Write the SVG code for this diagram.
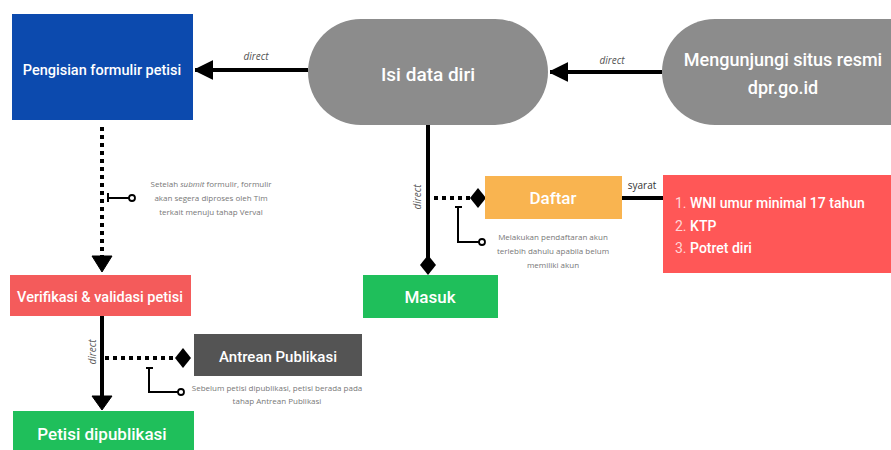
<svg xmlns="http://www.w3.org/2000/svg" width="891" height="450" viewBox="0 0 891 450">
<defs>
<style>
.lbl{font-family:Roboto,"Open Sans",sans-serif;font-weight:500;fill:#fff;text-anchor:middle}
.dir{font-family:"Open Sans","Liberation Sans",sans-serif;font-style:italic;font-size:10px;fill:#555}
.note{font-family:"Open Sans","Liberation Sans",sans-serif;font-size:8px;fill:#777;text-anchor:middle}
.solid{stroke:#000;stroke-width:4;fill:none}
.dot{stroke:#000;stroke-width:4;fill:none;stroke-dasharray:4 4}
.thin{stroke:#000;stroke-width:2;fill:none}
</style>
<marker id="arr" viewBox="0 0 10 10" refX="10" refY="5" markerWidth="4.4" markerHeight="5.5" orient="auto" markerUnits="strokeWidth">
<path d="M0,0 L10,5 L0,10 Z" fill="#000" stroke="#000" stroke-linejoin="round"/>
</marker>
</defs>
<rect width="891" height="450" fill="#fff"/>

<g id="connectors">
<line class="solid" x1="308" y1="70" x2="195" y2="70" marker-end="url(#arr)"/>
<text class="dir" x="256" y="60" text-anchor="middle">direct</text>
<line class="solid" x1="662" y1="72" x2="550" y2="72" marker-end="url(#arr)"/>
<text class="dir" x="612" y="64" text-anchor="middle">direct</text>
<line class="solid" x1="428" y1="125" x2="428" y2="262"/>
<path d="M428,255 L436,265 L428,275 L420,265 Z" fill="#000"/>
<text class="dir" transform="translate(421,197) rotate(-90)" text-anchor="middle">direct</text>
<line class="dot" x1="434" y1="198" x2="470" y2="198"/>
<path d="M470,198 L478,188 L486,198 L478,208 Z" fill="#000"/>
<line class="solid" x1="622" y1="198" x2="663" y2="198"/>
<text x="642" y="189" font-family="Open Sans, Liberation Sans, sans-serif" font-size="10" fill="#333" text-anchor="middle">syarat</text>
<path class="thin" d="M455,207 H462 M458,207 V242 H479"/>
<circle cx="482" cy="242" r="3" fill="#fff" stroke="#000" stroke-width="1.8"/>
<line class="dot" x1="102" y1="127" x2="102" y2="258"/>
<path d="M92,256 L112,256 L102,272 Z" fill="#000" stroke="#000" stroke-linejoin="round"/>
<path class="thin" d="M108,193 V202 M108,198 H129"/>
<circle cx="132" cy="198" r="3" fill="#fff" stroke="#000" stroke-width="1.8"/>
<line class="solid" x1="102" y1="316" x2="102" y2="397"/>
<path d="M92,396 L112,396 L102,410 Z" fill="#000" stroke="#000" stroke-linejoin="round"/>
<text class="dir" transform="translate(96,352) rotate(-90)" text-anchor="middle">direct</text>
<line class="dot" x1="105" y1="358" x2="175" y2="358"/>
<path d="M175,358 L183,348 L191,358 L183,368 Z" fill="#000"/>
<path class="thin" d="M146,368 H153 M149,368 V392 H178"/>
<circle cx="181" cy="392" r="3" fill="#fff" stroke="#000" stroke-width="1.8"/>
</g>

<g id="n-pengisian">
<rect x="12" y="14" width="181" height="106" fill="#0c4aae"/>
<text class="lbl" x="102" y="75" font-size="14.5">Pengisian formulir petisi</text>
</g>
<g id="n-isi">
<rect x="308" y="19" width="240" height="106" rx="53" fill="#8c8c8c"/>
<text class="lbl" x="428" y="81" font-size="19">Isi data diri</text>
</g>
<g id="n-mengunjungi">
<rect x="662" y="19" width="280" height="106" rx="53" fill="#8c8c8c"/>
<text class="lbl" x="783" y="66" font-size="18">Mengunjungi situs resmi</text>
<text class="lbl" x="783" y="94" font-size="18">dpr.go.id</text>
</g>
<g id="n-daftar">
<rect x="485" y="176" width="137" height="43" fill="#f9b450"/>
<text class="lbl" x="553" y="204" font-size="17">Daftar</text>
</g>
<g id="n-syarat">
<rect x="663" y="175" width="230" height="98" fill="#ff5757"/>
<text x="675" y="208" font-family="Roboto, sans-serif" font-size="14" fill="#fff"><tspan fill="#ffd6d6">1.</tspan><tspan font-weight="500"> WNI umur minimal 17 tahun</tspan></text>
<text x="675" y="231" font-family="Roboto, sans-serif" font-size="14" fill="#fff"><tspan fill="#ffd6d6">2.</tspan><tspan font-weight="500"> KTP</tspan></text>
<text x="675" y="253" font-family="Roboto, sans-serif" font-size="14" fill="#fff"><tspan fill="#ffd6d6">3.</tspan><tspan font-weight="500"> Potret diri</tspan></text>
</g>
<g id="n-daftar-note">
<text class="note" x="553" y="240">Melakukan pendaftaran akun</text>
<text class="note" x="553" y="254">terlebih dahulu apabila belum</text>
<text class="note" x="553" y="268">memiliki akun</text>
</g>
<g id="n-masuk">
<rect x="363" y="275" width="135" height="43" fill="#1fbf5b"/>
<text class="lbl" x="430" y="303" font-size="17">Masuk</text>
</g>
<g id="n-verif-note">
<text class="note" x="211" y="187">Setelah <tspan font-style="italic">submit</tspan> formulir,  formulir</text>
<text class="note" x="211" y="201">akan segera diproses oleh Tim</text>
<text class="note" x="211" y="215">terkait menuju tahap Verval</text>
</g>
<g id="n-verifikasi">
<rect x="10" y="275" width="181" height="41" fill="#f45b5b"/>
<text class="lbl" x="100" y="302" font-size="14.5">Verifikasi &amp; validasi petisi</text>
</g>
<g id="n-antrean">
<rect x="194" y="334" width="168" height="42" fill="#545454"/>
<text class="lbl" x="278" y="362" font-size="15">Antrean Publikasi</text>
</g>
<g id="n-antrean-note">
<text class="note" x="277" y="391">Sebelum petisi dipublikasi, petisi berada pada</text>
<text class="note" x="277" y="404">tahap Antrean Publikasi</text>
</g>
<g id="n-petisi">
<rect x="13" y="411" width="181" height="45" fill="#1fbf5b"/>
<text class="lbl" x="102" y="440" font-size="17">Petisi dipublikasi</text>
</g>
</svg>
